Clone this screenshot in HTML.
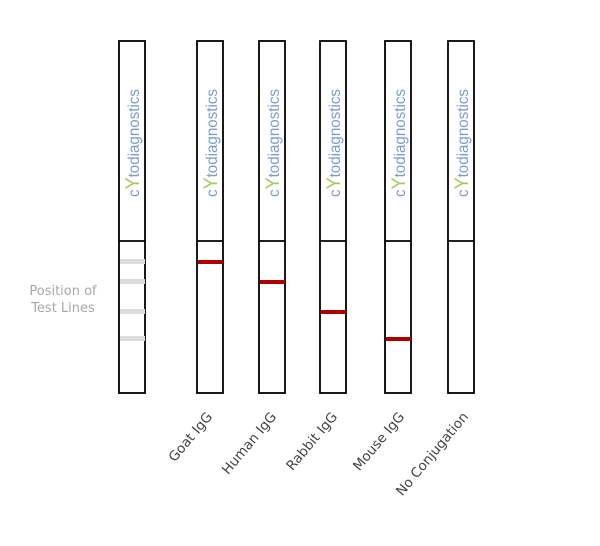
<!DOCTYPE html>
<html><head><style>body{margin:0;background:#fff}</style></head><body>
<svg width="600" height="541" xmlns="http://www.w3.org/2000/svg" font-family="DejaVu Sans, Liberation Sans, sans-serif">
<defs>
<g id="logo">
<text transform="rotate(-90)" x="0" y="0" font-size="16" textLength="108" lengthAdjust="spacingAndGlyphs" font-family="Liberation Sans, sans-serif"><tspan fill="#7a9bd0">c</tspan><tspan fill="#a8c85a" font-size="19">Y</tspan><tspan fill="#7a9bd0">todiagnostics</tspan></text>
</g>
</defs>
<g stroke="#000" stroke-width="1.8" fill="#fff">
<rect x="119" y="41" width="26" height="352"/><line x1="119" y1="241" x2="145" y2="241"/>
<rect x="197" y="41" width="26" height="352"/><line x1="197" y1="241" x2="223" y2="241"/>
<rect x="259" y="41" width="26" height="352"/><line x1="259" y1="241" x2="285" y2="241"/>
<rect x="320" y="41" width="26" height="352"/><line x1="320" y1="241" x2="346" y2="241"/>
<rect x="385" y="41" width="26" height="352"/><line x1="385" y1="241" x2="411" y2="241"/>
<rect x="448" y="41" width="26" height="352"/><line x1="448" y1="241" x2="474" y2="241"/>
</g>
<use href="#logo" x="139" y="197"/>
<use href="#logo" x="217" y="197"/>
<use href="#logo" x="279" y="197"/>
<use href="#logo" x="340" y="197"/>
<use href="#logo" x="405" y="197"/>
<use href="#logo" x="468" y="197"/>
<g fill="#dcdcdc">
<rect x="120" y="259" width="25" height="5"/>
<rect x="120" y="279" width="25" height="5"/>
<rect x="120" y="309" width="25" height="5"/>
<rect x="120" y="336" width="25" height="5"/>
</g>
<g fill="#b00000">
<rect x="198" y="260" width="25" height="4"/>
<rect x="260" y="280" width="25" height="4"/>
<rect x="321" y="310" width="25" height="4"/>
<rect x="386" y="337" width="25" height="4"/>
</g>
<text x="63" y="295" font-size="13" fill="#a8a8a8" text-anchor="middle">Position of</text>
<text x="63" y="312" font-size="13" fill="#a8a8a8" text-anchor="middle">Test Lines</text>
<g font-size="13.5" fill="#444" text-anchor="end">
<text transform="translate(213,417) rotate(-50)">Goat IgG</text>
<text transform="translate(277,417) rotate(-50)">Human IgG</text>
<text transform="translate(338,417) rotate(-50)">Rabbit IgG</text>
<text transform="translate(405,417) rotate(-50)">Mouse IgG</text>
<text transform="translate(469,417) rotate(-50)">No Conjugation</text>
</g>
</svg>
</body></html>
